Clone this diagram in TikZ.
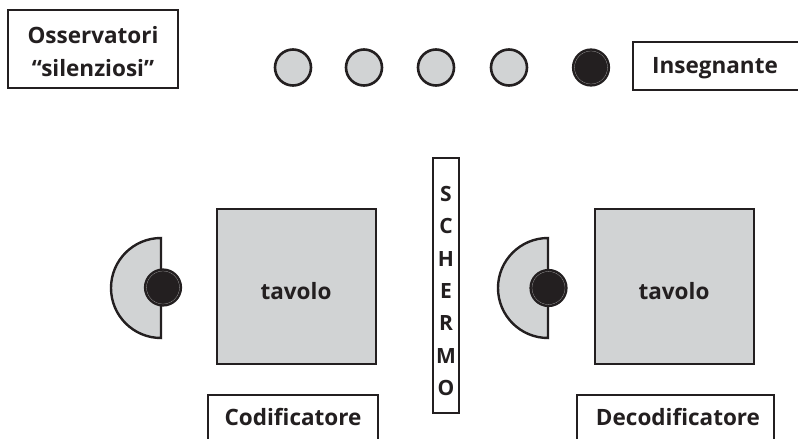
\documentclass[tikz,border=0pt]{standalone}
\usepackage{fontspec}
\setmainfont{Open Sans}
\definecolor{ink}{HTML}{231F20}
\definecolor{tablegray}{HTML}{D1D3D4}
\begin{document}
\begin{tikzpicture}[x=1pt,y=-1pt,
  frame/.style={draw=ink, line width=2pt, fill=white, rectangle, inner sep=0pt},
  lbl/.style={font=\bfseries\fontsize{22.5}{33}\selectfont, text=ink, inner sep=0pt},
  observer/.style={circle, fill=tablegray, draw=ink, line width=2.6pt, minimum size=36, inner sep=0pt},
  persondot/.style={circle, fill=ink, draw=ink, line width=2.2pt, minimum size=36, inner sep=0pt,
    path picture={\draw[gray!70, line width=0.4pt] (path picture bounding box.center) circle (16.6pt);}},
  tablebox/.style={rectangle, fill=tablegray, draw=ink, line width=2.6pt, inner sep=0pt,
    minimum width=159, minimum height=155},
  chair/.style={fill=tablegray, draw=ink, line width=2.4pt}
]
\clip (0,0) rectangle (798,439);
\fill[white] (0,0) rectangle (798,439);

% silent observers
\node[frame, minimum width=170, minimum height=78] (obsbox) at (93,49) {};
\node[lbl, anchor=base] (obs1) at (93,43) {Osservatori};
\node[lbl, anchor=base] (obs2) at (93,76) {“silenziosi”};

\node[observer] (o1) at (293,67.5) {};
\node[observer] (o2) at (364,67.5) {};
\node[observer] (o3) at (436,67.5) {};
\node[observer] (o4) at (509,67.5) {};
\node[persondot] (teacher) at (591,67.5) {};

% teacher box, open past the right edge
\node[frame, minimum width=200, minimum height=48, anchor=north west] (teachbox) at (632,41) {};
\node[lbl, anchor=base] (teachlbl) at (715,73) {Insegnante};

% screen between the two tables
\node[frame, minimum width=26, minimum height=255] (screen) at (446,285.5) {};
\node[lbl, anchor=center, align=center, font=\bfseries\fontsize{21}{32.3}\selectfont] (screenlbl) at (446,291) {S\\C\\H\\E\\R\\M\\O};

% encoder side
\path[chair] (161,238) arc[start angle=90, end angle=270, radius=50pt] -- cycle;
\node[persondot] (encoder) at (163,287.5) {};
\node[tablebox] (tableL) at (296.5,286.5) {};
\node[lbl, anchor=base] (tavL) at (296,299) {tavolo};

% decoder side
\path[chair] (548,238) arc[start angle=90, end angle=270, radius=50pt] -- cycle;
\node[persondot] (decoder) at (548.5,288) {};
\node[tablebox] (tableR) at (674.5,286.5) {};
\node[lbl, anchor=base] (tavR) at (674,299) {tavolo};

% role boxes, open past the bottom edge
\node[frame, minimum width=170, minimum height=60, anchor=north] (codbox) at (293,394) {};
\node[lbl, anchor=base] (codlbl) at (293,425) {Codificatore};
\node[frame, minimum width=197, minimum height=60, anchor=north] (decbox) at (675.5,394) {};
\node[lbl, anchor=base] (declbl) at (678,425) {Decodificatore};
\end{tikzpicture}
\end{document}
